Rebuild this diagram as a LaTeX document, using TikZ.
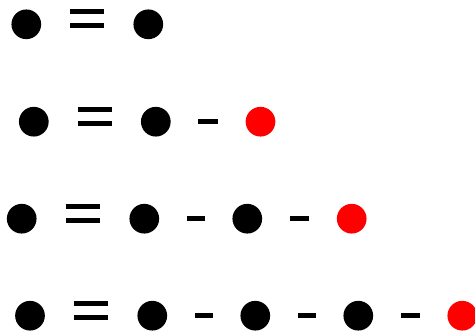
\documentclass[tikz,border=0pt]{standalone}
\usetikzlibrary{positioning}

\begin{document}
\begin{tikzpicture}[
    x=1pt, y=-1pt,
    atom/.style={circle, fill=black, minimum size=29.7pt, inner sep=0pt},
    endatom/.style={atom, fill=red},
    single/.style={line width=5pt, shorten <=27.5pt, shorten >=27.5pt},
    double bond/.style={line width=4.7pt, double=white, double distance=9.3pt, shorten <=28.9pt, shorten >=28.9pt},
]
\useasboundingbox (0,0) rectangle (475,332);

% ====== Row 1 ======
\node[atom] (r1a) at (26.3, 24.3) {};
\node[atom] (r1b) at (148.3, 24.3) {};
\draw[double bond] ([yshift=5.5pt]r1a.east) -- ([yshift=5.5pt]r1b.west);

% ====== Row 2 ======
\node[atom] (r2a) at (33.8, 121.7) {};
\node[atom] (r2b) at (155.8, 121.7) {};
\node[endatom] (r2c) at (260.5, 121.7) {};
\draw[double bond] ([yshift=5.5pt]r2a.east) -- ([yshift=5.5pt]r2b.west);
\draw[single] (r2b.east) -- (r2c.west);

% ====== Row 3 ======
\node[atom] (r3a) at (21.7, 218.7) {};
\node[atom] (r3b) at (144.3, 218.7) {};
\node[atom] (r3c) at (247.3, 218.7) {};
\node[endatom] (r3d) at (351.7, 218.7) {};
\draw[double bond] ([yshift=5.5pt]r3a.east) -- ([yshift=5.5pt]r3b.west);
\draw[single] (r3b.east) -- (r3c.west);
\draw[single] (r3c.east) -- (r3d.west);

% ====== Row 4 ======
\node[atom] (r4a) at (30, 315.7) {};
\node[atom] (r4b) at (152.3, 315.7) {};
\node[atom] (r4c) at (255.3, 315.7) {};
\node[atom] (r4d) at (358.3, 315.7) {};
\node[endatom] (r4e) at (462.3, 315.7) {};
\draw[double bond] ([yshift=5.5pt]r4a.east) -- ([yshift=5.5pt]r4b.west);
\draw[single] (r4b.east) -- (r4c.west);
\draw[single] (r4c.east) -- (r4d.west);
\draw[single] (r4d.east) -- (r4e.west);

\end{tikzpicture}
\end{document}
